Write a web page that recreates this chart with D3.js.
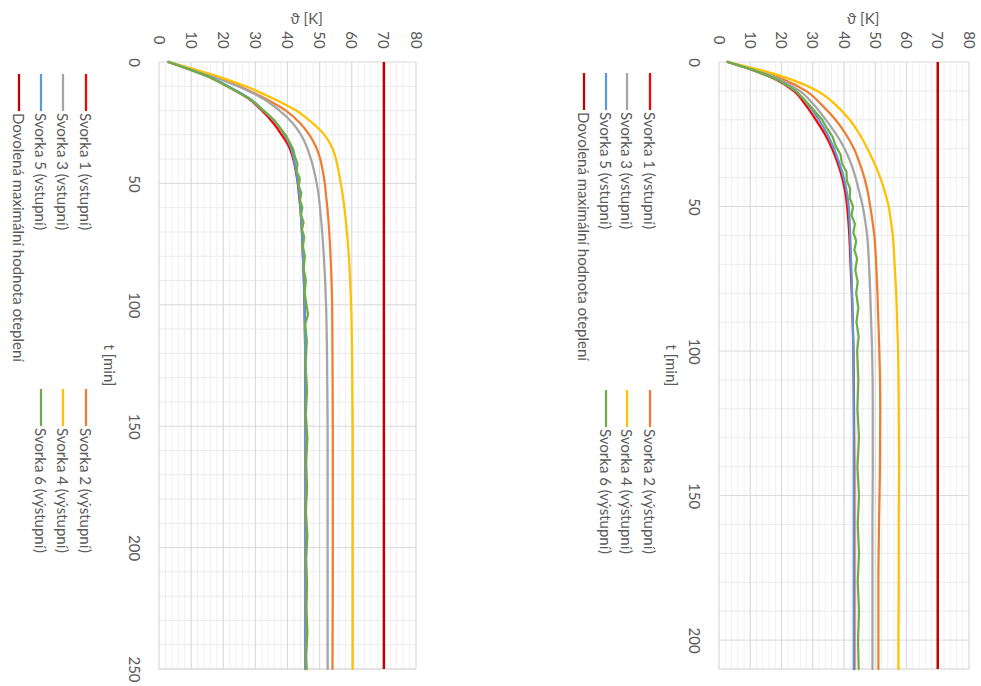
<!DOCTYPE html>
<html><head><meta charset="utf-8">
<script src="https://cdn.jsdelivr.net/npm/d3@7"></script>
<style>
html,body{margin:0;padding:0;background:#fff;}
svg{display:block;}
text{font-family:Lato, "Liberation Sans", Arial, sans-serif;fill:#595959;}
</style></head>
<body>
<svg id="chart" width="981" height="686"></svg>
<script>
// ---------------- data ----------------
const seriesNames = ["Svorka 1 (vstupní)", "Svorka 2 (výstupní)", "Svorka 3 (vstupní)", "Svorka 4 (výstupní)", "Svorka 5 (vstupní)", "Svorka 6 (výstupní)"];
const limitName = "Dovolená maximální hodnota oteplení";
const seriesColors = ["#FF0000", "#ED7D31", "#A5A5A5", "#FFC000", "#5B9BD5", "#70AD47"];
const limitColor = "#C00000";
const limitValue = 70;
const thetaTicks = [0, 10, 20, 30, 40, 50, 60, 70, 80];
const leftTimeTicks = [0, 50, 100, 150, 200, 250];
const rightTimeTicks = [0, 50, 100, 150, 200];
const thetaTitle = "ϑ [K]";
const timeTitle = "t [min]";

// left chart
const leftTime = [0,3,6,10,15,20,25,30,35,40,45,50,55,60,70,80,90,100,120,150,200,250];
const leftS1 = [2.9,9.4,15.3,21.3,27.8,32.0,35.5,38.2,40.5,41.8,42.6,43.2,43.6,44.0,44.5,44.8,45.1,45.3,45.5,45.6,45.6,45.6];
const leftS2 = [3.0,10.5,17.5,25.0,33.0,39.5,43.8,46.8,48.9,50.2,51.0,51.6,52.0,52.4,53.0,53.4,53.7,53.9,54.0,54.1,54.1,54.0];
const leftS3 = [3.0,10.3,17.0,24.5,32.3,37.5,41.5,44.2,46.0,47.3,48.3,49.1,49.7,50.1,50.8,51.3,51.7,52.0,52.3,52.5,52.5,52.5];
const leftS4 = [3.1,11.0,18.5,27.0,35.5,42.7,47.6,51.5,53.8,55.1,55.9,56.6,57.2,57.7,58.5,59.1,59.5,59.8,60.1,60.3,60.3,60.3];
const leftS5 = [2.9,9.5,15.5,21.5,28.2,32.5,36.4,39.1,41.0,42.0,42.7,43.3,43.7,44.0,44.5,44.8,45.1,45.3,45.5,45.6,45.6,45.6];
const leftTimeG = [0,3,6,10,15,20,24,27,30,33,36,39,42,45,48,51,54,57,60,63,66,69,72,76,80,85,90,95,100,104,108,115,125,135,145,155,165,175,185,195,205,215,225,235,245,250];
const leftS6 = [2.9,9.2,15.3,21.2,28.0,32.6,35.9,37.6,39.4,40.6,41.8,42.3,43.1,42.8,43.8,43.5,44.3,43.9,44.6,44.2,45.0,44.5,45.2,44.8,45.4,45.0,45.7,45.3,45.9,46.4,45.5,46.0,45.6,46.1,45.7,46.2,45.8,46.1,45.7,46.2,45.8,46.1,45.9,46.2,45.8,46.0];

// right chart
const rightTime = [0,3,6,10,15,20,25,30,35,40,45,50,55,60,70,80,90,100,120,140,160,180,200,210];
const rightS1 = [2.8,11.3,18.0,23.9,27.8,31.0,33.9,36.2,38.0,39.4,40.4,41.0,41.4,41.7,42.1,42.5,42.8,43.0,43.2,43.3,43.3,43.3,43.3,43.3];
const rightS2 = [2.8,12.5,20.5,27.8,33.0,37.3,40.6,43.2,45.0,46.5,47.6,48.4,49.1,49.7,50.3,50.7,51.0,51.3,51.6,51.5,51.2,51.0,51.0,51.0];
const rightS3 = [2.8,12.0,19.3,25.8,30.5,34.2,37.5,40.2,42.2,43.7,44.9,46.0,46.8,47.4,48.0,48.4,48.7,49.0,49.2,49.2,49.1,49.1,49.1,49.1];
const rightS4 = [2.8,14.0,23.0,31.5,37.5,41.8,45.0,47.5,49.7,51.6,53.1,54.3,55.0,55.6,56.2,56.7,57.0,57.3,57.5,57.6,57.5,57.5,57.4,57.4];
const rightS5 = [2.8,11.5,18.3,24.4,28.6,32.0,34.7,36.8,38.5,39.9,40.9,41.5,41.8,42.0,42.3,42.6,42.8,43.0,43.1,43.1,43.1,43.1,43.1,43.1];
const rightTimeG = [0,3,6,10,15,20,23,26,29,32,35,38,41,44,47,50,53,56,59,62,65,68,72,76,80,85,90,95,100,110,120,130,140,150,160,170,180,190,200,210];
const rightS6 = [2.8,11.5,18.5,24.6,29.0,33.0,34.6,36.4,37.3,38.9,39.3,40.8,40.9,42.0,41.8,42.9,42.4,43.5,43.0,43.9,43.3,44.2,43.6,44.4,43.9,44.6,44.0,44.7,44.2,44.6,44.3,44.8,44.3,44.8,44.4,44.8,44.4,44.8,44.5,44.7];

// ---------------- drawing ----------------
const svg = d3.select("#chart");
const FS = "15px";

function toPoints(times, vals){ return times.map((t,i)=>({t:t, v:vals[i]})); }

function drawChart(cfg){
  const g = svg.append("g");
  const x = d3.scaleLinear().domain([0,80]).range([cfg.x0, cfg.x1]);
  const y = d3.scaleLinear().domain([0,cfg.tMax]).range([cfg.y0, cfg.y1]);

  // minor vertical grid (every 2 K)
  g.append("g").selectAll("line").data(x.ticks(40)).join("line")
    .attr("x1", d=>x(d)).attr("x2", d=>x(d)).attr("y1", cfg.y0).attr("y2", cfg.y1)
    .attr("stroke", "#f0f0f0").attr("stroke-width", 1);
  // horizontal grid every 10 min
  g.append("g").selectAll("line").data(y.ticks(cfg.tMax/10)).join("line")
    .attr("x1", cfg.x0).attr("x2", cfg.x1).attr("y1", d=>y(d)).attr("y2", d=>y(d))
    .attr("stroke", d => d % 50 === 0 ? "#d9d9d9" : "#ebebeb").attr("stroke-width", 1);
  // major vertical grid
  g.append("g").selectAll("line").data(thetaTicks).join("line")
    .attr("x1", d=>x(d)).attr("x2", d=>x(d)).attr("y1", cfg.y0).attr("y2", cfg.y1)
    .attr("stroke", "#d9d9d9").attr("stroke-width", 1);
  // bottom border
  g.append("line").attr("x1", cfg.x0).attr("x2", cfg.x1).attr("y1", cfg.y1).attr("y2", cfg.y1)
    .attr("stroke", "#d9d9d9");

  // axes
  const ax = g.append("g").attr("transform", `translate(0,${cfg.y0})`)
    .call(d3.axisTop(x).tickValues(thetaTicks).tickSize(0).tickFormat(d3.format("d")));
  ax.select(".domain").remove();
  ax.selectAll("text").attr("y", null).attr("dy", null)
    .attr("transform", "translate(0,-22) rotate(90)")
    .attr("text-anchor", "middle").attr("dominant-baseline", "central")
    .style("font-size", FS).attr("font-family", null).attr("fill", "#595959");

  const ay = g.append("g").attr("transform", `translate(${cfg.x0},0)`)
    .call(d3.axisLeft(y).tickValues(cfg.tTicks).tickSize(0).tickFormat(d3.format("d")));
  ay.select(".domain").remove();
  ay.selectAll("text").attr("x", null).attr("dy", null)
    .attr("transform", "translate(-24,0) rotate(90)")
    .attr("text-anchor", "middle").attr("dominant-baseline", "central")
    .style("font-size", FS).attr("font-family", null).attr("fill", "#595959");
  ax.attr("font-family", null); ay.attr("font-family", null);

  // titles
  g.append("text").attr("x", (cfg.x0+cfg.x1)/2 + 19).attr("y", 18)
    .attr("text-anchor", "middle").attr("dominant-baseline", "central")
    .style("font-size", FS).text(thetaTitle);
  g.append("text")
    .attr("transform", `translate(${cfg.tTitleX},${(cfg.y0+cfg.y1)/2}) rotate(90)`)
    .attr("text-anchor", "middle").attr("dominant-baseline", "central")
    .style("font-size", FS).text(timeTitle);

  // series
  const line = d3.line().x(d=>x(d.v)).y(d=>y(d.t)).curve(d3.curveMonotoneY);
  const lineG = d3.line().x(d=>x(d.v)).y(d=>y(d.t)).curve(d3.curveLinear);
  cfg.series.forEach((s,i)=>{
    g.append("path").datum(toPoints(s.t, s.v))
      .attr("d", i===5 ? lineG : line)
      .attr("fill", "none").attr("stroke", seriesColors[i])
      .attr("stroke-width", 2.25).attr("stroke-linejoin", "round").attr("stroke-linecap", "round");
  });
  // limit
  g.append("path").datum([{t:0, v:limitValue},{t:cfg.tMax, v:limitValue}])
    .attr("d", d3.line().x(d=>x(d.v)).y(d=>y(d.t)))
    .attr("fill","none").attr("stroke", limitColor).attr("stroke-width", 2.5);

  // legend
  const items = [
    {name: seriesNames[0], color: seriesColors[0], col:0, row:0},
    {name: seriesNames[1], color: seriesColors[1], col:1, row:0},
    {name: seriesNames[2], color: seriesColors[2], col:0, row:1},
    {name: seriesNames[3], color: seriesColors[3], col:1, row:1},
    {name: seriesNames[4], color: seriesColors[4], col:0, row:2},
    {name: seriesNames[5], color: seriesColors[5], col:1, row:2},
    {name: limitName, color: limitColor, col:0, row:3}
  ];
  const lg = g.append("g");
  items.forEach(it=>{
    const mx = cfg.legX[it.row];
    const my = cfg.legY[it.col];
    lg.append("line").attr("x1", mx).attr("x2", mx).attr("y1", my).attr("y2", my+37)
      .attr("stroke", it.color).attr("stroke-width", 2.25);
    lg.append("text").attr("transform", `translate(${mx},${my+39}) rotate(90)`)
      .attr("text-anchor", "start").attr("dominant-baseline", "central")
      .style("font-size", FS).text(it.name);
  });
}

drawChart({
  x0:159, x1:416, y0:62, y1:669, tMax:250, tTicks: leftTimeTicks, tTitleX:110,
  legX:[86,63,41,19], legY:[74,389],
  series:[
    {t:leftTime, v:leftS1},{t:leftTime, v:leftS2},{t:leftTime, v:leftS3},
    {t:leftTime, v:leftS4},{t:leftTime, v:leftS5},{t:leftTimeG, v:leftS6}
  ]
});
drawChart({
  x0:719, x1:969, y0:62, y1:669, tMax:210, tTicks: rightTimeTicks, tTitleX:672,
  legX:[650,627,606,584], legY:[73,390],
  series:[
    {t:rightTime, v:rightS1},{t:rightTime, v:rightS2},{t:rightTime, v:rightS3},
    {t:rightTime, v:rightS4},{t:rightTime, v:rightS5},{t:rightTimeG, v:rightS6}
  ]
});
</script>
</body></html>
